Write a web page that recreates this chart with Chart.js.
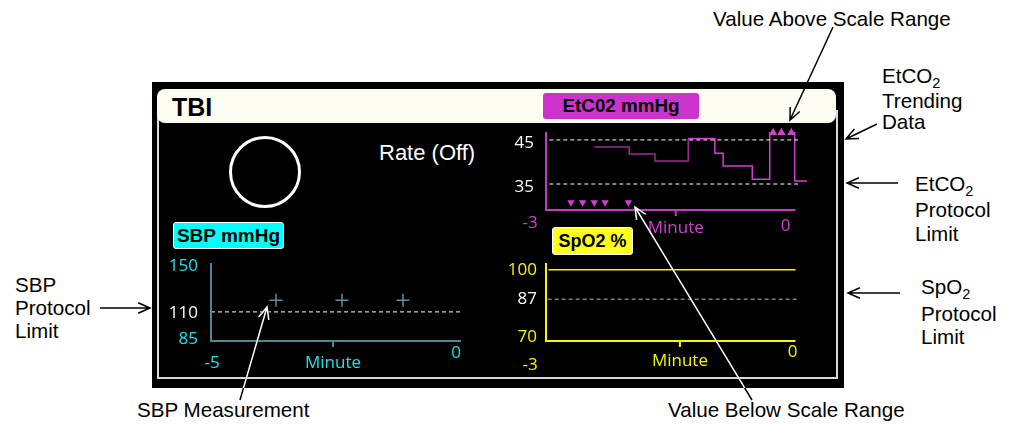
<!DOCTYPE html>
<html>
<head>
<meta charset="utf-8">
<script src="https://cdn.jsdelivr.net/npm/chart.js@4.4.1/dist/chart.umd.min.js"></script>
<style>
html, body { margin: 0; padding: 0; background: #fff; }
#stage { position: relative; width: 1009px; height: 424px; overflow: hidden; font-family: "Liberation Sans", Arial, sans-serif; }
.abs { position: absolute; }
#panel { left: 152px; top: 82px; width: 692px; height: 306px; background: #000; }
#frame { left: 157px; top: 110px; width: 677px; height: 267px; border: 2px solid #d9d9d9; border-top: none; }
#header { left: 157px; top: 89px; width: 679px; height: 34px; background: #fdfdf3; border-radius: 8px; }
#tbi { left: 172px; top: 93px; font-weight: bold; font-size: 25px; line-height: 28px; color: #000; }
.tag { position: absolute; box-sizing: border-box; text-align: center; font-weight: bold; color: #000; border-radius: 3px; white-space: nowrap; }
#etTag { left: 543px; top: 93px; width: 156px; height: 26px; line-height: 26px; background: #cc33cc; font-size: 18.8px; }
#sbpTag { left: 173px; top: 222px; width: 111px; height: 27px; line-height: 25px; background: #00ffff; border: 1.5px solid #fff; font-size: 19px; }
#spTag { left: 552px; top: 227px; width: 81px; height: 28px; line-height: 26px; background: #ffff1e; border: 1.5px solid #fff; font-size: 18px; }
#ring { left: 229px; top: 136px; width: 72px; height: 72px; box-sizing: border-box; border: 3px solid #fff; border-radius: 50%; }
#rate { left: 379px; top: 140px; color: #fff; font-size: 22px; line-height: 26px; }
.note { position: absolute; font-size: 20.6px; color: #000; white-space: nowrap; }
.sub { font-size: 14.5px; position: relative; top: 5px; }
canvas { position: absolute; }
#arrows { position: absolute; left: 0; top: 0; }
</style>
</head>
<body>
<div id="stage">
  <div id="panel" class="abs"></div>
  <div id="frame" class="abs"></div>
  <div id="header" class="abs"></div>
  <div id="tbi" class="abs">TBI</div>
  <div id="etTag" class="tag">EtC02 mmHg</div>
  <div id="ring" class="abs"></div>
  <div id="rate" class="abs">Rate (Off)</div>
  <div id="sbpTag" class="tag">SBP mmHg</div>
  <div id="spTag" class="tag">SpO2 %</div>

  <canvas id="sbpChart" width="310" height="125" style="left:160px; top:250px"></canvas>
  <canvas id="etco2Chart" width="310" height="115" style="left:505px; top:125px"></canvas>
  <canvas id="spo2Chart" width="310" height="128" style="left:505px; top:250px"></canvas>

  <div class="note" style="left:713px; top:7px; line-height:24px">Value Above Scale Range</div>
  <div class="note" style="left:882px; top:65px; line-height:21.5px">EtCO<span class="sub">2</span><br>Trending<br>Data</div>
  <div class="note" style="left:915px; top:172px; line-height:24px">EtCO<span class="sub">2</span><br>Protocol<br>Limit</div>
  <div class="note" style="left:921px; top:275px; line-height:23.5px">SpO<span class="sub">2</span><br>Protocol<br>Limit</div>
  <div class="note" style="left:15px; top:273px; line-height:23px">SBP<br>Protocol<br>Limit</div>
  <div class="note" style="left:137px; top:398px; line-height:24px">SBP Measurement</div>
  <div class="note" style="left:668px; top:398px; line-height:24px">Value Below Scale Range</div>

  <svg id="arrows" width="1009" height="424"></svg>
</div>

<script>
// SBP trend (last 5 minutes)
const sbpMinutes = [-5, 0];
const sbpTimes = [-3.7, -2.38, -1.16];
const sbpValues = [120, 120, 120];
const sbpLimit = 110;
const sbpTicks = [150, 110, 85];

// EtCO2 trend (last 3 minutes), stepped
const etco2Minutes = [-3, 0];
const etco2Times = [-2.42, -2.0, -1.69, -1.29, -0.97, -0.87, -0.52, -0.31, -0.01, 0.14];
const etco2Values = [43.4, 41.8, 40.2, 45.3, 42.0, 39.1, 36.1, 48.0, 35.7, 35.7];
const etco2Limits = [45, 35];
const etco2Ticks = [45, 35];
const etco2BelowTimes = [-2.7, -2.56, -2.42, -2.29, -2.01];
const etco2AboveTimes = [-0.27, -0.17, -0.05];

// SpO2 trend (last 3 minutes)
const spo2Minutes = [-3, 0];
const spo2Times = [-2.97, 0];
const spo2Values = [100, 100];
const spo2Limit = 87;
const spo2Ticks = [100, 87, 70];

const TICK_FONT = '17px "Open Sans"';
const MAGENTA = '#d040d0';
const YELLOW = '#f5f500';
const CYAN = '#22e0e8';

const pts = (xs, ys) => xs.map((x, i) => ({ x: x, y: ys[i] }));

function line(points, color, width, dash) {
    return {
        data: points,
        showLine: true,
        borderColor: color,
        borderWidth: width,
        borderDash: dash || [],
        pointRadius: 0,
        fill: false
    };
}

const monitorAxes = {
    id: 'monitorAxes',
    afterDraw(chart, args, o) {
        const ctx = chart.ctx;
        const xs = chart.scales.x, ys = chart.scales.y;
        const left = xs.getPixelForValue(o.minutes[0]);
        const right = xs.getPixelForValue(o.minutes[1]);
        const top = ys.getPixelForValue(ys.max);
        const bottom = ys.getPixelForValue(ys.min);
        const mid = xs.getPixelForValue(o.minuteAt);
        ctx.save();
        ctx.strokeStyle = o.axisColor;
        ctx.lineWidth = 2;
        ctx.beginPath();
        ctx.moveTo(left, top);
        ctx.lineTo(left, bottom);
        ctx.lineTo(right, bottom);
        ctx.moveTo(mid, bottom);
        ctx.lineTo(mid, bottom + 6);
        ctx.stroke();

        ctx.font = TICK_FONT;
        ctx.textBaseline = 'middle';
        ctx.textAlign = 'right';
        o.ticks.forEach((v, i) => {
            ctx.fillStyle = o.tickColors[i];
            ctx.fillText(String(v), left - o.yGap, Math.min(ys.getPixelForValue(v) + o.tickDy, bottom - 2));
        });

        ctx.textAlign = 'center';
        ctx.fillStyle = o.labelColor;
        ctx.fillText(String(o.minutes[0]), left + o.startOff[0], bottom + o.startOff[1]);
        ctx.fillText('Minute', mid, bottom + o.titleOff);
        ctx.fillText(String(o.minutes[1]), right + o.endOff[0], bottom + o.endOff[1]);
        ctx.restore();
    }
};

function monitor(id, xRange, yRange, pad, datasets, axes) {
    return new Chart(document.getElementById(id), {
        type: 'scatter',
        data: { datasets: datasets },
        options: {
            responsive: false,
            animation: false,
            devicePixelRatio: 1,
            layout: { padding: pad },
            scales: {
                x: { type: 'linear', display: false, min: xRange[0], max: xRange[1] },
                y: { type: 'linear', display: false, min: yRange[0], max: yRange[1] }
            },
            plugins: {
                legend: { display: false },
                tooltip: { enabled: false },
                monitorAxes: axes
            }
        },
        plugins: [monitorAxes]
    });
}

// SBP
monitor('sbpChart', [-5, 0], [85, 152], { left: 51, top: 13, right: 9, bottom: 34 }, [
    line(pts(sbpMinutes, [sbpLimit, sbpLimit]), '#ffffff', 1, [4, 3]),
    {
        data: pts(sbpTimes, sbpValues),
        showLine: false,
        pointStyle: 'cross',
        pointRadius: 6.5,
        pointBorderColor: '#5d8f9f',
        pointBorderWidth: 1.5,
        clip: false
    }
], {
    minutes: sbpMinutes, minuteAt: -2.56, axisColor: '#528595',
    ticks: sbpTicks, tickColors: [CYAN, '#ffffff', CYAN], yGap: 13, tickDy: 1,
    labelColor: CYAN, startOff: [1, 22], titleOff: 22, endOff: [-5, 12]
});

// EtCO2
const etTop = 46.8, etBottom = 29.1;
monitor('etco2Chart', [-3, 0.15], [etBottom, etTop], { left: 41, top: 7, right: 7, bottom: 30 }, [
    line(pts([-2.96, 0.03], [etco2Limits[0], etco2Limits[0]]), '#ffffff', 1, [4, 3]),
    line(pts([-2.96, 0.03], [etco2Limits[1], etco2Limits[1]]), '#ffffff', 1, [4, 3]),
    Object.assign(line(pts(etco2Times, etco2Values), MAGENTA, 1.5), {
        stepped: true,
        segment: { borderColor: c => c.p0.parsed.x < -1.3 ? '#9a2e94' : MAGENTA }
    }),
    {
        data: etco2BelowTimes.map(t => ({ x: t, y: etBottom + 1.7 })),
        showLine: false,
        pointStyle: 'triangle',
        pointRotation: 180,
        pointRadius: 4.3,
        pointBackgroundColor: MAGENTA,
        pointBorderWidth: 0,
        clip: false
    },
    {
        data: etco2AboveTimes.map(t => ({ x: t, y: etTop - 0.12 })),
        showLine: false,
        pointStyle: 'triangle',
        pointRadius: 4.8,
        pointBackgroundColor: MAGENTA,
        pointBorderWidth: 0,
        clip: false
    }
], {
    minutes: etco2Minutes, minuteAt: -1.44, axisColor: '#c838c8',
    ticks: etco2Ticks, tickColors: ['#ffffff', '#ffffff'], yGap: 12, tickDy: 3,
    labelColor: MAGENTA, startOff: [-16, 13], titleOff: 18, endOff: [-10, 16]
});

// SpO2
monitor('spo2Chart', [-3, 0.15], [68.5, 103], { left: 41, top: 13, right: 7, bottom: 37 }, [
    line(pts([-2.98, 0.05], [spo2Limit, spo2Limit]), '#bbbbbb', 1, [4, 3]),
    line(pts(spo2Times, spo2Values), YELLOW, 1.5)
], {
    minutes: spo2Minutes, minuteAt: -1.39, axisColor: YELLOW,
    ticks: spo2Ticks, tickColors: [YELLOW, '#ffffff', YELLOW], yGap: 9, tickDy: 0,
    labelColor: YELLOW, startOff: [-16, 24], titleOff: 20, endOff: [-3, 11]
});

// callout arrows
function arrowPath(x1, y1, x2, y2) {
    const a = Math.atan2(y2 - y1, x2 - x1), L = 13, s = 0.42;
    return 'M' + x1 + ' ' + y1 + 'L' + x2 + ' ' + y2 +
        'M' + (x2 - L * Math.cos(a - s)) + ' ' + (y2 - L * Math.sin(a - s)) +
        'L' + x2 + ' ' + y2 +
        'L' + (x2 - L * Math.cos(a + s)) + ' ' + (y2 - L * Math.sin(a + s));
}

const blackArrows = [
    [100, 308, 150, 308],
    [898, 183, 847, 183],
    [900, 293, 848, 293],
    [877, 124, 846, 139],
    [833, 27, 790, 120]
];
const mixedArrows = [
    [240, 400, 267, 307],
    [752, 400, 635, 207]
];

let svg = '<defs><clipPath id="inPanel"><rect x="152" y="82" width="692" height="306"/></clipPath></defs>';
blackArrows.forEach(a => {
    svg += '<path d="' + arrowPath(a[0], a[1], a[2], a[3]) + '" stroke="#000" stroke-width="1.5" fill="none"/>';
});
mixedArrows.forEach(a => {
    const d = arrowPath(a[0], a[1], a[2], a[3]);
    svg += '<path d="' + d + '" stroke="#000" stroke-width="1.5" fill="none"/>';
    svg += '<path d="' + d + '" stroke="#fff" stroke-width="1.5" fill="none" clip-path="url(#inPanel)"/>';
});
document.getElementById('arrows').innerHTML = svg;
</script>
</body>
</html>
